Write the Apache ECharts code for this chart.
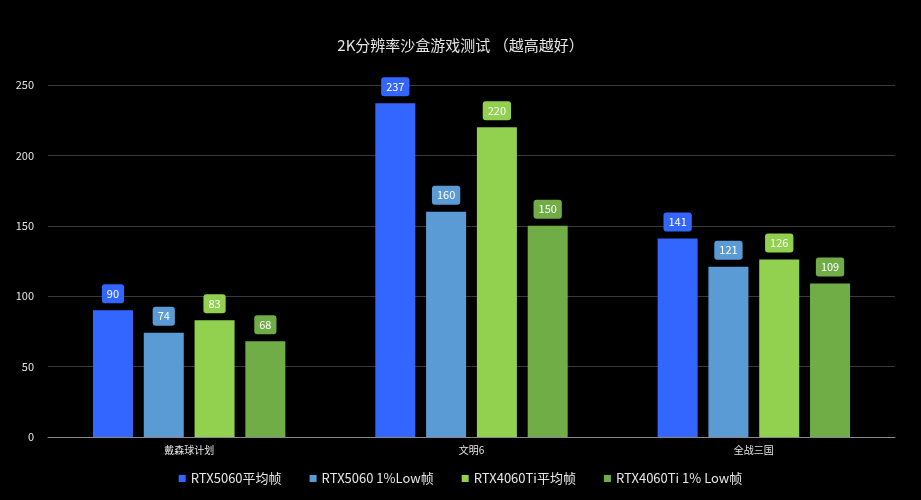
<!DOCTYPE html>
<html><head><meta charset="utf-8">
<script src="https://cdn.jsdelivr.net/npm/echarts@6/dist/echarts.min.js"></script>
<style>html,body{margin:0;padding:0;background:#000}#c{width:921px;height:500px}</style>
</head><body><div id="c"></div>
<script>
const categories = ['戴森球计划', '文明6', '全战三国'];
const seriesNames = ['RTX5060平均帧', 'RTX5060 1%Low帧', 'RTX4060Ti平均帧', 'RTX4060Ti 1% Low帧'];
const rtx5060Avg = [90, 237, 141];
const rtx5060Low = [74, 160, 121];
const rtx4060TiAvg = [83, 220, 126];
const rtx4060TiLow = [68, 150, 109];
const colors = ['#3366ff', '#5b9bd5', '#92d050', '#70ad47'];
const data = [rtx5060Avg, rtx5060Low, rtx4060TiAvg, rtx4060TiLow];
const font = '"Noto Sans CJK SC", "Noto Sans", sans-serif';
const chart = echarts.init(document.getElementById('c'));
chart.setOption({
  backgroundColor: '#000',
  textStyle: { fontFamily: font },
  title: { text: '2K分辨率沙盒游戏测试 （越高越好）', left: 'center', top: 33,
    textStyle: { color: '#e6e6e6', fontSize: 15, fontWeight: 'normal', fontFamily: font } },
  legend: { bottom: 10, itemWidth: 7, itemHeight: 7, itemGap: 28, icon: 'rect',
    textStyle: { color: '#e6e6e6', fontSize: 13, fontFamily: font } },
  grid: { left: 48, right: 26, top: 85, bottom: 63 },
  xAxis: { type: 'category', data: categories,
    axisLine: { lineStyle: { color: '#888' } }, axisTick: { show: false },
    axisLabel: { color: '#e6e6e6', fontSize: 10, margin: 8 } },
  yAxis: { type: 'value', min: 0, max: 250, interval: 50,
    axisLabel: { color: '#e6e6e6', fontSize: 11, margin: 14 },
    splitLine: { lineStyle: { color: '#3a3a3a' } } },
  series: seriesNames.map((n, i) => ({
    name: n, type: 'bar', data: data[i], barWidth: 40, barGap: '27%',
    itemStyle: { color: colors[i] },
    label: { show: true, position: 'top', distance: 7, color: '#fff', fontSize: 11,
      backgroundColor: colors[i], borderRadius: 3, padding: [4, 5] }
  }))
});
</script></body></html>
